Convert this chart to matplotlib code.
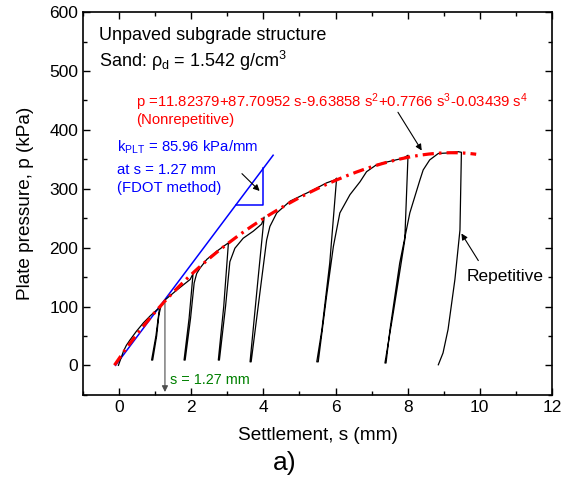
import numpy as np
import matplotlib.pyplot as plt
from matplotlib.ticker import MultipleLocator

plt.rcParams['font.family'] = ['Liberation Sans', 'DejaVu Sans']
plt.rcParams['mathtext.fontset'] = 'custom'
plt.rcParams['mathtext.rm'] = 'Liberation Sans'
plt.rcParams['mathtext.it'] = 'Liberation Sans'

s_test = [-0.02, 0.05, 0.12, 0.20, 0.30, 0.48, 0.67, 0.86, 1.04, 1.12,   # first loading
          1.02, 0.90,                              # unload 1
          0.93, 1.04, 1.10, 1.16, 1.27, 1.60, 1.97, 2.05,   # reload 1 + envelope
          1.94, 1.80,                              # unload 2
          1.83, 1.98, 2.08, 2.15, 2.24, 2.43, 2.71, 2.98, 3.03,
          2.90, 2.75,                              # unload 3
          2.78, 2.95, 3.07, 3.21, 3.44, 3.72, 3.95, 4.02,
          3.85, 3.63,                              # unload 4
          3.66, 3.95, 4.09, 4.18, 4.37, 4.74, 5.01, 5.38, 5.75, 5.98, 6.03,
          5.84, 5.62, 5.48,                        # unload 5
          5.52, 5.75, 5.94, 6.12, 6.40, 6.68, 6.86, 7.14, 7.32, 7.60, 7.88, 8.01,
          7.92, 7.60, 7.37,                        # unload 6
          7.40, 7.51, 7.78, 8.06, 8.34, 8.43, 8.61, 8.85, 9.17, 9.40, 9.49,
          9.45, 9.31, 9.12, 8.98, 8.85]            # final unload
p_test = [0, 12, 24, 34, 43, 58, 72, 84, 94, 98,
          50, 9,
          9, 50, 85, 101, 111, 128, 146, 156,
          80, 9,
          9, 80, 140, 156, 165, 180, 194, 206, 208,
          100, 9,
          9, 100, 176, 199, 216, 228, 240, 252,
          146, 6,
          6, 146, 213, 236, 259, 279, 287, 298, 310, 315, 318,
          174, 60, 6,
          6, 117, 202, 259, 290, 312, 329, 341, 344, 348, 352, 357,
          213, 89, 4,
          4, 61, 174, 259, 315, 332, 349, 360, 361, 363, 362,
          230, 146, 61, 21, 1]

# nonrepetitive fit shown in the figure: p = c0 + c1 s + c2 s^2 + c3 s^3 + c4 s^4
fit_coef = [11.82379, 87.70952, -9.63858, 0.7766, -0.03439]
fit_range = (-0.13, 9.9)

# FDOT tangent line (endpoints) and slope triangle
tan_s = [-0.1, 4.27]
tan_p = [0, 357]
tri_s = [3.23, 4.0, 4.0]
tri_p = [273, 273, 336]

fig = plt.figure(figsize=(5.69, 4.88), dpi=100)
ax = fig.add_axes([0.146, 0.191, 0.824, 0.784])

s_fit = np.linspace(fit_range[0], fit_range[1], 300)
p_fit = np.polyval(fit_coef[::-1], s_fit)

ax.plot(tan_s, tan_p, color='blue', lw=1.1)
ax.plot(tri_s, tri_p, color='blue', lw=1.1)
ax.plot(s_test, p_test, color='black', lw=0.9)
ax.plot(s_fit, p_fit, color='red', lw=2.3, linestyle=(0, (3.5, 1.6, 0.8, 1.6)))

arrow = dict(arrowstyle='-|>', color='black', lw=0.8, mutation_scale=9)
ax.annotate('', xy=(3.95, 293), xytext=(3.35, 329), arrowprops=arrow)
ax.annotate('', xy=(8.43, 361), xytext=(7.69, 434), arrowprops=arrow)
ax.annotate('', xy=(9.45, 228), xytext=(10.0, 174), arrowprops=arrow)
ax.annotate('', xy=(1.27, -50), xytext=(1.27, 110),
            arrowprops=dict(arrowstyle='-|>', color='0.3', lw=0.8, mutation_scale=9))

fs = 12.5
sm = 10.7
ax.text(-0.55, 561, 'Unpaved subgrade structure', fontsize=13, va='center')
ax.text(-0.55, 517, r'Sand: $\rho_{\mathregular{d}}$ = 1.542 g/cm$^{\mathregular{3}}$', fontsize=13, va='center')
ax.text(0.47, 447, r'p =11.82379+87.70952 s-9.63858 s$^{\mathregular{2}}$+0.7766 s$^{\mathregular{3}}$-0.03439 s$^{\mathregular{4}}$',
        fontsize=sm, color='red', va='center')
ax.text(0.47, 417, '(Nonrepetitive)', fontsize=sm, color='red', va='center')
ax.text(-0.05, 371, r'k$_{\mathregular{PLT}}$ = 85.96 kPa/mm', fontsize=sm, color='blue', va='center')
ax.text(-0.05, 332, 'at s = 1.27 mm', fontsize=sm, color='blue', va='center')
ax.text(-0.05, 301, '(FDOT method)', fontsize=sm, color='blue', va='center')
ax.text(1.41, -25, 's = 1.27 mm', fontsize=10.4, color='green', va='center')
ax.text(9.63, 151, 'Repetitive', fontsize=fs, va='center')

ax.set_xlim(-1, 12)
ax.set_ylim(-50, 600)
ax.xaxis.set_major_locator(MultipleLocator(2))
ax.xaxis.set_minor_locator(MultipleLocator(1))
ax.yaxis.set_major_locator(MultipleLocator(100))
ax.yaxis.set_minor_locator(MultipleLocator(50))
ax.tick_params(which='both', direction='in', top=True, right=True, labelsize=fs, width=1)
ax.tick_params(which='major', length=5)
ax.tick_params(which='minor', length=3)
for sp in ax.spines.values():
    sp.set_linewidth(1.2)

ax.set_xlabel('Settlement, s (mm)', fontsize=13.7, labelpad=9)
ax.set_ylabel('Plate pressure, p (kPa)', fontsize=13.7, labelpad=11)
fig.text(0.50, 0.052, 'a)', fontsize=19, ha='center', va='center', family=['Liberation Sans Narrow', 'Liberation Sans'])

fig.savefig('out.png', dpi=100)
